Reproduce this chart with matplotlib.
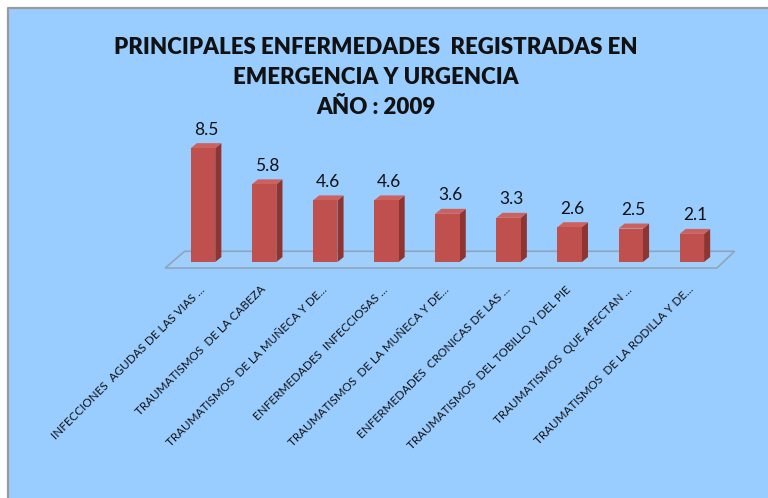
import matplotlib
matplotlib.use('Agg')
import matplotlib.pyplot as plt
from matplotlib.patches import Polygon, Rectangle
from matplotlib.lines import Line2D

categorias = ['INFECCIONES  AGUDAS DE LAS VIAS ...',
              'TRAUMATISMOS  DE LA CABEZA',
              'TRAUMATISMOS  DE LA MUÑECA Y DE...',
              'ENFERMEDADES  INFECCIOSAS ...',
              'TRAUMATISMOS  DE LA MUÑECA Y DE...',
              'ENFERMEDADES  CRONICAS DE LAS ...',
              'TRAUMATISMOS  DEL TOBILLO Y DEL PIE',
              'TRAUMATISMOS  QUE AFECTAN ...',
              'TRAUMATISMOS  DE LA RODILLA Y DE...']
valores = [8.5, 5.8, 4.6, 4.6, 3.6, 3.3, 2.6, 2.5, 2.1]
titulo = ['PRINCIPALES ENFERMEDADES  REGISTRADAS EN',
          'EMERGENCIA Y URGENCIA',
          'AÑO : 2009']

FONT = ['Lato', 'DejaVu Sans']
FONDO = '#99CCFF'
FRENTE = '#C0504D'
LADO = '#8E3532'
TAPA = '#CC615E'


def barra3d(ax, i, v, w=0.4, dx=0.1, dy=0.37):
    x0, x1 = i - w / 2, i + w / 2
    ax.add_patch(Polygon([(x1, 0), (x1 + dx, dy), (x1 + dx, v + dy), (x1, v)],
                         closed=True, fc=LADO, ec='none', clip_on=False, zorder=3))
    ax.add_patch(Polygon([(x0, v), (x1, v), (x1 + dx, v + dy), (x0 + dx, v + dy)],
                         closed=True, fc=TAPA, ec='none', clip_on=False, zorder=3))
    ax.bar(i, v, width=w, color=FRENTE, zorder=3, clip_on=False)
    ax.annotate(str(v), (i + dx / 2, v + dy), xytext=(0, 4), textcoords='offset points',
                ha='center', va='bottom', fontsize=12.5, family=FONT, color='#111111')


def main():
    fig = plt.figure(figsize=(7.68, 4.98), dpi=100, facecolor='white')

    # panel de fondo, borde gris solo arriba e izquierda
    x0f, y1f = 8 / 768, 1 - 8 / 498
    fig.patches.append(Rectangle((x0f, -0.05), 1.1, y1f + 0.05, transform=fig.transFigure,
                                 fc=FONDO, ec='none', zorder=-5))
    fig.lines.append(Line2D([x0f, x0f, 1.05], [-0.05, y1f, y1f], transform=fig.transFigure,
                            color='#9A9A9A', lw=1.6, zorder=-4))

    for k, linea in enumerate(titulo):
        fig.text(0.489, 1 - (47 + 30 * k) / 498, linea, ha='center', va='center',
                 fontsize=16, fontweight='heavy', family=FONT, color='#111111')

    ax = fig.add_axes([0.1848, 0.4335, 0.7956, 0.3363])
    ax.set_facecolor('none')
    ax.set_xlim(-1, 9)
    ax.set_ylim(-1.5, 11)

    # piso
    ax.add_patch(Polygon([(-0.62, -0.45), (8.41, -0.45), (8.7, 0.8), (-0.3, 0.8)],
                         closed=True, fc='#A0CFFC', ec='#8FA6BA', lw=1.2, zorder=1,
                         clip_on=False))

    for i, v in enumerate(valores):
        barra3d(ax, i, v)

    ax.set_xticks(range(len(categorias)))
    ax.set_xticklabels(categorias, rotation=45, ha='right', va='center',
                       rotation_mode='anchor', fontsize=8.4, family=FONT, color='#111111')
    ax.tick_params(axis='x', length=0, pad=4)
    ax.set_yticks([])
    for s in ax.spines.values():
        s.set_visible(False)

    fig.savefig('out.png', dpi=100, facecolor='white')


if __name__ == '__main__':
    main()
